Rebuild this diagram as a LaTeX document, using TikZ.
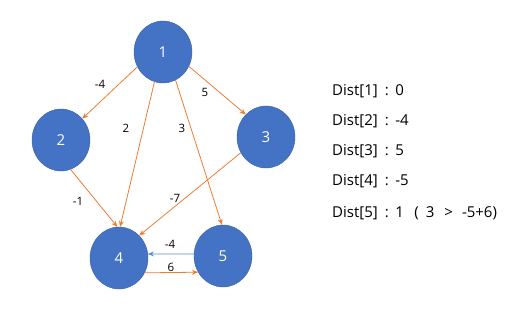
\documentclass[tikz,border=0pt]{standalone}
\usepackage{fontspec}
\setmainfont{Open Sans}
\usetikzlibrary{arrows.meta,shapes.geometric}
\definecolor{nodeblue}{HTML}{4472C4}
\definecolor{edgeorange}{HTML}{ED7D31}
\definecolor{edgeblue}{HTML}{5B8BD0}
\tikzset{
  vert/.style={ellipse,fill=nodeblue,draw=nodeblue!85!black,line width=0.4pt,minimum width=58pt,minimum height=62pt,inner sep=0pt,text=white,font=\fontsize{15}{15}\selectfont},
  oedge/.style={draw=edgeorange,line width=0.8pt,-{Stealth[length=6pt,width=5pt]}},
  bedge/.style={draw=edgeblue,line width=0.8pt,-{Stealth[length=6pt,width=5pt]}},
  wlabel/.style={font=\fontsize{11.5}{11.5}\selectfont,inner sep=0pt},
  distline/.style={anchor=base west,font=\fontsize{15}{15}\selectfont,inner sep=0pt}
}
\newcommand{\gA}{\hspace{7pt}}
\newcommand{\gB}{\hspace{6.5pt}}
\begin{document}
\begin{tikzpicture}[x=1pt,y=-1pt]
\useasboundingbox (0,0) rectangle (526,315);
\node[vert] (n1) at (163,52) {1};
\node[vert] (n2) at (61,140) {2};
\node[vert] (n3) at (266,137) {3};
\node[vert] (n4) at (119,258) {4};
\node[vert] (n5) at (223,256) {5};
\draw[oedge] (n1.210) -- (n2.45);
\draw[oedge] (n1.331) -- (n3.132);
\draw[oedge] (n1.254) -- (n4.88);
\draw[oedge] (n1.294) -- (n5.92);
\draw[oedge] (n2.288) -- (n4.93);
\draw[oedge] (n3.212) -- (n4.48);
\draw[bedge] (n5.176) -- (n4.8);
\draw[oedge] (n4.330) -- (n5.213);
\node[wlabel] (l12) at (100,84) {-4};
\node[wlabel] (l14) at (126,128) {2};
\node[wlabel] (l15) at (182,128) {3};
\node[wlabel] (l13) at (205,92) {5};
\node[wlabel] (l24) at (78,201) {-1};
\node[wlabel] (l34) at (175,198) {-7};
\node[wlabel] (l54) at (170,244) {-4};
\node[wlabel] (l45) at (171,267) {6};
\node[distline] (d1) at (332,96) {Dist[1]\gA:\gB0};
\node[distline] (d2) at (332,126) {Dist[2]\gA:\gB-4};
\node[distline] (d3) at (332,155) {Dist[3]\gA:\gB5};
\node[distline] (d4) at (332,185) {Dist[4]\gA:\gB-5};
\node[distline] (d5) at (332,217) {Dist[5]\gA:\gB1\hspace{10.5pt}(\hspace{7pt}3\hspace{10pt}>\hspace{9pt}-5+6)};
\end{tikzpicture}
\end{document}
